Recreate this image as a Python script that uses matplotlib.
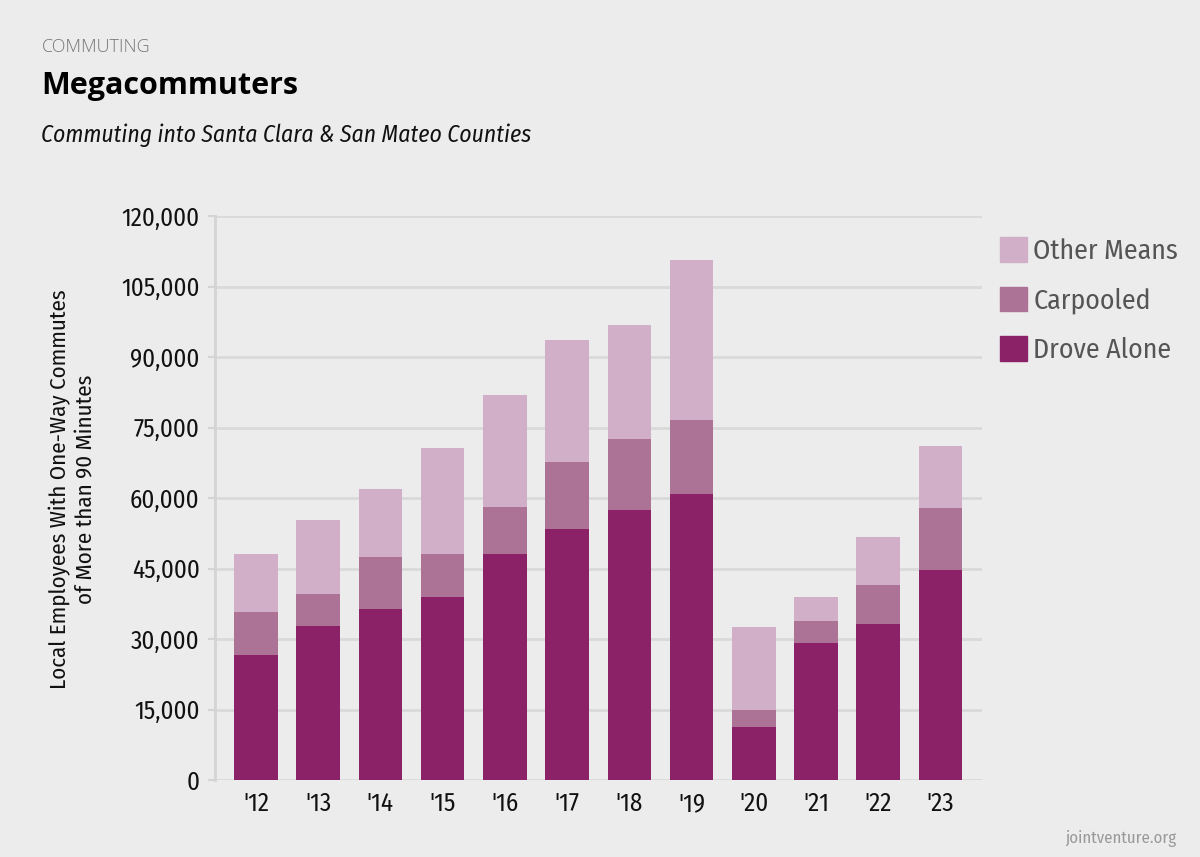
import matplotlib
matplotlib.use("Agg")
import numpy as np
import matplotlib.pyplot as plt
from matplotlib.patches import Patch

years = ["'12", "'13", "'14", "'15", "'16", "'17", "'18", "'19", "'20", "'21", "'22", "'23"]
drove_alone = [26600, 32800, 36400, 39000, 48100, 53400, 57500, 60900, 11300, 29100, 33300, 44800]
carpooled = [9200, 6800, 11000, 9000, 10100, 14200, 15100, 15800, 3500, 4800, 8100, 13000]
other_means = [12300, 15800, 14500, 22700, 23800, 26100, 24300, 34000, 17800, 5100, 10300, 13200]

c_drove = "#8b2268"
c_carpool = "#ad7397"
c_other = "#d2afc8"
bg = "#ececec"

# condensed face for most texts, close to the original's narrow sans
cond = dict(family=["Fira Sans Condensed", "Open Sans", "DejaVu Sans"], fontstretch="condensed")

fig = plt.figure(figsize=(12, 8.57), dpi=100, facecolor=bg)
ax = fig.add_axes([0.179, 0.0898, 0.639, 0.658])
ax.set_facecolor(bg)

x = np.arange(len(years))
w = 0.7
b1 = np.array(drove_alone)
b2 = b1 + np.array(carpooled)
ax.bar(x, drove_alone, w, color=c_drove, zorder=3)
ax.bar(x, carpooled, w, bottom=b1, color=c_carpool, zorder=3)
ax.bar(x, other_means, w, bottom=b2, color=c_other, zorder=3)

ax.set_xlim(-0.66, 11.66)
ax.set_ylim(0, 120000)
ax.set_yticks(np.arange(0, 120001, 15000))
ax.set_yticklabels([f"{v:,}" for v in range(0, 120001, 15000)], fontsize=18, color="#111111", **cond)
ax.set_xticks(x)
ax.set_xticklabels(years, fontsize=18, color="#111111", **cond)
ax.tick_params(axis='x', length=0, pad=8)
ax.tick_params(axis='y', length=5, width=1.5, color="#d4d4d4", pad=6)
ax.grid(axis='y', color="#d9d9d9", linewidth=2, zorder=0)
for s in ["top", "right", "bottom"]:
    ax.spines[s].set_visible(False)
ax.spines["left"].set_color("#d4d4d4")
ax.spines["left"].set_linewidth(2)

ax.set_ylabel("Local Employees With One-Way Commutes\nof More than 90 Minutes", fontsize=16.5,
              color="#111111", linespacing=1.25, **cond)
ax.yaxis.set_label_coords(-0.154, 0.516)

handles = [Patch(color=c_other, label="Other Means"),
           Patch(color=c_carpool, label="Carpooled"),
           Patch(color=c_drove, label="Drove Alone")]
leg = fig.legend(handles=handles, loc="upper left", bbox_to_anchor=(0.833, 0.723), frameon=False,
                 fontsize=20, handlelength=0.97, handleheight=0.97, handletextpad=0.25,
                 labelspacing=0.8, borderpad=0, borderaxespad=0, labelcolor="#555555")
for t in leg.get_texts():
    t.set_family(cond["family"])
    t.set_fontstretch("condensed")

fig.text(0.035, 0.945, "COMMUTING", fontsize=13, color="#777777", va="center",
         family=['Open Sans', 'DejaVu Sans'], fontweight="light", fontstretch="normal")
fig.text(0.034, 0.9, "Megacommuters", fontsize=22, fontweight="bold", color="black", va="center",
         family=['Open Sans', 'DejaVu Sans'], fontstretch="normal")
fig.text(0.034, 0.842, "Commuting into Santa Clara & San Mateo Counties", fontsize=17,
         style="italic", color="#111111", va="center", **cond)
fig.text(0.98, 0.022, "jointventure.org", fontsize=12, color="#999999", ha="right", va="center",
         **cond)

fig.savefig("out.png", dpi=100, facecolor=bg)
